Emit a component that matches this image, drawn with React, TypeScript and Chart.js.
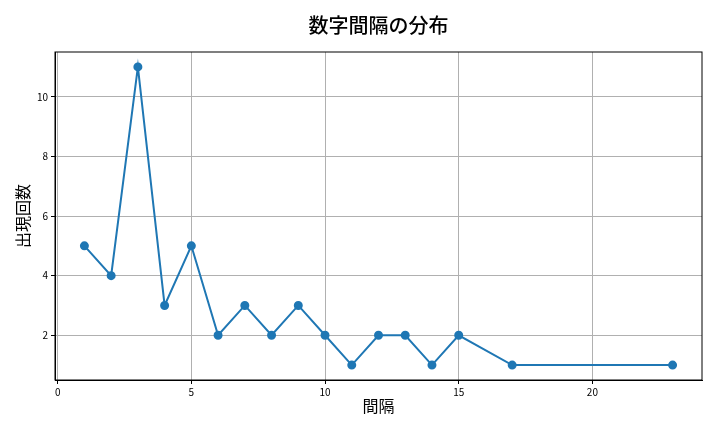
import { Chart, ChartConfiguration, Plugin, registerables } from "chart.js";
import React, { useEffect, useRef } from "react";

Chart.register(...registerables);

// gap sizes and how often each one appeared
const gaps = [1, 2, 3, 4, 5, 6, 7, 8, 9, 10, 11, 12, 13, 14, 15, 17, 23];
const counts = [5, 4, 11, 3, 5, 2, 3, 2, 3, 2, 1, 2, 2, 1, 2, 1, 1];
const xTicks = [0, 5, 10, 15, 20];
const yTicks = [2, 4, 6, 8, 10];

const FONT = "'Noto Sans CJK JP', 'Noto Sans', sans-serif";
const BLUE = "#1f77b4";

// draws the title over the plot area and closes the frame on all four sides
const framePlugin: Plugin<"line"> = {
  id: "frame",
  afterDraw(chart) {
    const { ctx, chartArea: a } = chart;
    ctx.save();
    ctx.strokeStyle = "#000";
    ctx.lineWidth = 1;
    ctx.strokeRect(a.left, a.top, a.right - a.left, a.bottom - a.top);
    ctx.fillStyle = "#000";
    ctx.font = `500 20px ${FONT}`;
    ctx.textAlign = "center";
    ctx.textBaseline = "middle";
    ctx.fillText("数字間隔の分布", (a.left + a.right) / 2, 25);
    ctx.restore();
  },
};

function configOf(): ChartConfiguration<"line"> {
  return {
    type: "line",
    data: {
      datasets: [{
        data: gaps.map((g, i) => ({ x: g, y: counts[i] })),
        borderColor: BLUE,
        backgroundColor: BLUE,
        borderWidth: 2,
        pointRadius: 3.5,
        pointHoverRadius: 3.5,
        tension: 0,
      }],
    },
    options: {
      responsive: false,
      animation: false,
      layout: { padding: { top: 52, right: 18, left: 13, bottom: 16 } },
      plugins: {
        legend: { display: false },
        tooltip: { enabled: false },
      },
      scales: {
        x: {
          type: "linear",
          min: -0.1,
          max: 24.1,
          afterBuildTicks: (s) => { s.ticks = xTicks.map(v => ({ value: v })); },
          afterFit: (s) => { s.height = 36; },
          grid: { color: "#b0b0b0", tickColor: "#000", tickLength: 4 },
          border: { color: "#000" },
          ticks: { color: "#000", font: { family: FONT, size: 10 }, padding: 2, maxRotation: 0 },
          title: {
            display: true, text: "間隔", color: "#000",
            font: { family: FONT, size: 16 }, padding: { top: 2, bottom: 0 },
          },
        },
        y: {
          type: "linear",
          min: 0.5,
          max: 11.5,
          afterBuildTicks: (s) => { s.ticks = yTicks.map(v => ({ value: v })); },
          afterFit: (s) => { s.width = 42; },
          grid: { color: "#b0b0b0", tickColor: "#000", tickLength: 4 },
          border: { color: "#000" },
          ticks: { color: "#000", font: { family: FONT, size: 10 }, padding: 3 },
          title: {
            display: true, text: "出現回数", color: "#000",
            font: { family: FONT, size: 16 }, padding: { top: 0, bottom: 4 },
          },
        },
      },
    },
    plugins: [framePlugin],
  };
}

export default function App() {
  const canvas = useRef<HTMLCanvasElement>(null);
  useEffect(() => {
    const ctx = canvas.current?.getContext("2d");
    const chart = ctx ? new Chart(ctx, configOf()) : null;
    return () => chart?.destroy();
  }, []);
  return (
    <div style={{ width: 720, height: 432, background: "#fff" }}>
      <canvas width="720" height="432" ref={canvas} style={{ display: "block" }} />
    </div>
  );
}

const style = document.createElement("style");
style.textContent = "body { margin: 0; }";
document.head.appendChild(style);
